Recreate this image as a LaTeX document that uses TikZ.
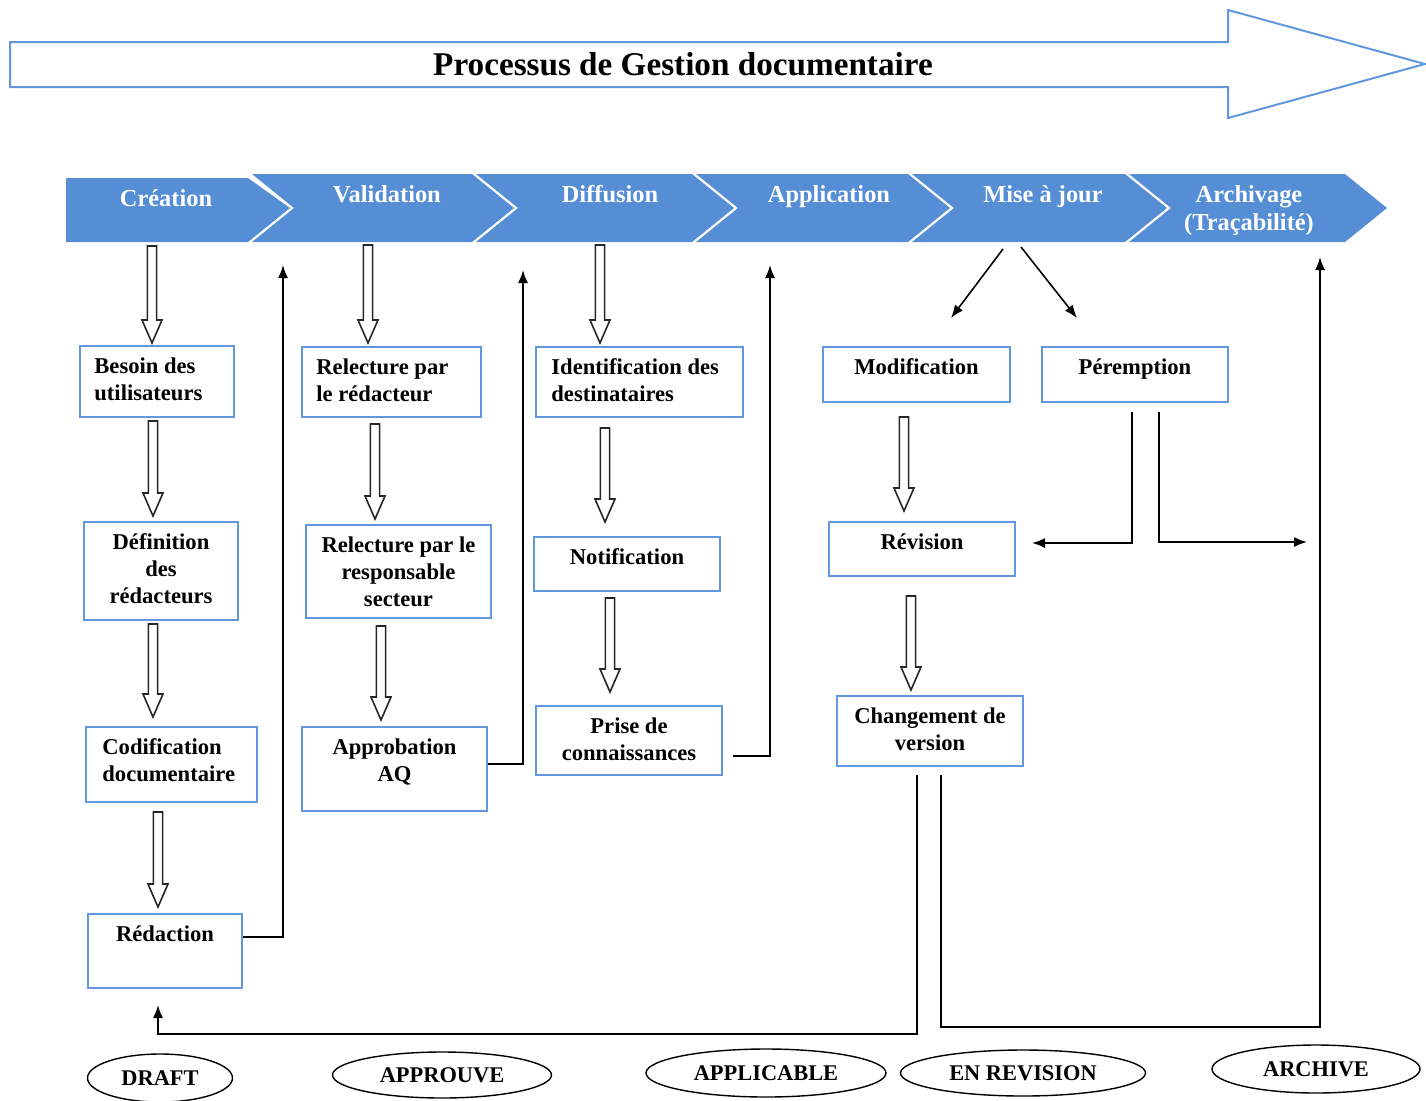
\documentclass[tikz,border=0pt]{standalone}
\usepackage{fontspec}
\setmainfont{Liberation Serif}
\usetikzlibrary{shapes}
\usetikzlibrary{arrows.meta}
\usetikzlibrary{calc}
\usetikzlibrary{positioning}

\definecolor{boxblue}{RGB}{98,150,222}
\definecolor{chevblue}{RGB}{85,142,213}

\newcommand{\blockarrow}[2]{%
  \draw[blockarr] let \p1=#1, \p2=#2 in
    (\x1-2.3pt,\y1) -- (\x1-2.3pt,\y2+11.5pt) -- (\x1-5pt,\y2+11.5pt) -- (\x1,\y2)
    -- (\x1+5pt,\y2+11.5pt) -- (\x1+2.3pt,\y2+11.5pt) -- (\x1+2.3pt,\y1) -- cycle;}

\begin{document}
\begin{tikzpicture}[x=0.5pt, y=-0.5pt,
  box/.style={draw=boxblue, line width=1pt, fill=white, anchor=north west, inner sep=0pt},
  lbl/.style={anchor=north, align=center, inner sep=0pt, yshift=-6pt,
    font=\fontsize{11.3}{13.5}\selectfont\bfseries},
  lbll/.style={lbl, anchor=north west, align=left},
  chev/.style={fill=chevblue},
  chevtxt/.style={text=white, align=center, font=\fontsize{12.2}{14}\selectfont\bfseries},
  conn/.style={line width=0.8pt, -{Latex[length=6.5pt,width=5pt]}},
  blockarr/.style={draw=black!85, line width=0.8pt, fill=white},
  etat/.style={draw, ellipse, line width=0.7pt, inner sep=0pt,
    font=\fontsize{11.2}{13}\selectfont\bfseries}]
  \useasboundingbox (0,0) rectangle (1426,1100);

  \draw[boxblue, line width=1pt] (10,42) -- (1228,42) -- (1228,10) -- (1425,64)
    -- (1228,118) -- (1228,87) -- (10,87) -- cycle;
  \node[font=\fontsize{16.6}{20}\selectfont\bfseries] (titre) at (683,64) {Processus de Gestion documentaire};

  \fill[chev] (66,178) -- (248,178) -- (290,208) -- (248,242) -- (66,242) -- cycle;
  \foreach \L/\R in {252/472, 476/692, 696/908, 912/1125, 1129/1345}
    \fill[chev] (\L,174) -- (\R,174) -- (\R+42,208) -- (\R,242) -- (\L,242) -- (\L+42,208) -- cycle;
  \node[chevtxt, anchor=base] (cre) at (166,206) {Création};
  \node[chevtxt, anchor=base] (val) at (387,202) {Validation};
  \node[chevtxt, anchor=base] (dif) at (610,202) {Diffusion};
  \node[chevtxt, anchor=base] (app) at (829,202) {Application};
  \node[chevtxt, anchor=base] (maj) at (1043,202) {Mise à jour};
  \node[chevtxt] (arc) at (1249,211) {Archivage\\(Traçabilité)};

  \node[box, minimum width=77pt, minimum height=35.5pt, label={[lbll, xshift=7.5pt]north west:{Besoin des\\utilisateurs}}] (besoin) at (79,345) {};
  \node[box, minimum width=77pt, minimum height=49pt, label={[lbl]north:{Définition\\des\\rédacteurs}}] (definit) at (83,521) {};
  \node[box, minimum width=85.5pt, minimum height=37.5pt, label={[lbll, xshift=8.5pt]north west:{Codification\\documentaire}}] (codif) at (85,726) {};
  \node[box, minimum width=77pt, minimum height=37pt, label={[lbl]north:{Rédaction}}] (redac) at (87,913) {};
  \node[box, minimum width=89.5pt, minimum height=35pt, label={[lbll, xshift=7.5pt]north west:{Relecture par\\le rédacteur}}] (relec1) at (301,346) {};
  \node[box, minimum width=92.5pt, minimum height=46.5pt, label={[lbl]north:{Relecture par le\\responsable\\secteur}}] (relec2) at (305,524) {};
  \node[box, minimum width=92.5pt, minimum height=42pt, label={[lbl]north:{Approbation\\AQ}}] (approb) at (301,726) {};
  \node[box, minimum width=103.5pt, minimum height=35pt, label={[lbll, xshift=8pt]north west:{Identification des\\destinataires}}] (ident) at (535,346) {};
  \node[box, minimum width=93pt, minimum height=27pt, label={[lbl]north:{Notification}}] (notif) at (533,536) {};
  \node[box, minimum width=93pt, minimum height=34.5pt, label={[lbl]north:{Prise de\\connaissances}}] (prise) at (535,705) {};
  \node[box, minimum width=93.5pt, minimum height=27.5pt, label={[lbl]north:{Modification}}] (modif) at (822,346) {};
  \node[box, minimum width=93pt, minimum height=27.5pt, label={[lbl]north:{Péremption}}] (perem) at (1041,346) {};
  \node[box, minimum width=93pt, minimum height=27pt, label={[lbl]north:{Révision}}] (revision) at (828,521) {};
  \node[box, minimum width=93pt, minimum height=35pt, label={[lbl]north:{Changement de\\version}}] (changement) at (836,695) {};

  \coordinate (cre-s) at (152,246);
  \coordinate (val-s) at (368,245);
  \coordinate (dif-s) at (600,245);
  \coordinate (val-up) at (283,265);
  \coordinate (dif-up) at (523,270);
  \coordinate (app-up) at (770,265);
  \coordinate (maj-l) at (1003,249);
  \coordinate (maj-r) at (1021,247);
  \coordinate (arc-up) at (1320,257);
  \coordinate (arc-in) at (1307,542);

  \blockarrow{(cre-s)}{($(besoin.north)+(0,-2)$)}
  \blockarrow{($(besoin.south)+(-4,3)$)}{($(definit.north)+(0,-5)$)}
  \blockarrow{($(definit.south)+(-8,3)$)}{($(codif.north)+(0,-9)$)}
  \blockarrow{($(codif.south)+(-13.5,9)$)}{($(redac.north)+(0,-6)$)}
  \blockarrow{(val-s)}{($(relec1.north)+(0,-3)$)}
  \blockarrow{($(relec1.south)+(-16.5,6)$)}{($(relec2.north)+(0,-5)$)}
  \blockarrow{($(relec2.south)+(-17.5,7)$)}{($(approb.north)+(0,-6)$)}
  \blockarrow{(dif-s)}{($(ident.north)+(0,-3)$)}
  \blockarrow{($(ident.south)+(-34.5,10)$)}{($(notif.north)+(0,-14)$)}
  \blockarrow{($(notif.south)+(-17,6)$)}{($(prise.north)+(0,-13)$)}
  \blockarrow{($(modif.south)+(-12.5,14)$)}{($(revision.north)+(0,-10)$)}
  \blockarrow{($(revision.south)+(-11,19)$)}{($(changement.north)+(0,-5)$)}

  \draw[conn] ($(redac.north east)+(0,24)$) -| (val-up);
  \draw[conn] ($(approb.north east)+(0,38)$) -| (dif-up);
  \draw[conn] ($(prise.east)+(10,15.5)$) -| (app-up);
  \draw[conn] (maj-l) -- ($(modif.north)+(34.5,-28)$);
  \draw[conn] (maj-r) -- ($(perem.north)+(-58,-28)$);
  \draw[conn] ($(perem.south)+(-3,9)$) |- ($(revision.east)+(16,-6)$);
  \draw[conn] ($(perem.south)+(24,9)$) |- (arc-in);
  \draw[conn] ($(changement.south)+(-13,8)$) |- ($(redac.south)+(-7,45)$) -- ($(redac.south)+(-7,16)$);
  \draw[conn] ($(changement.south)+(11,8)$) |- ($(arc-up)+(0,770)$) -- (arc-up);

  \node[etat, minimum width=72.5pt, minimum height=24pt] (draft) at (160,1078) {DRAFT};
  \node[etat, minimum width=109.5pt, minimum height=23pt] (approuve) at (442,1075) {APPROUVE};
  \node[etat, minimum width=120pt, minimum height=24pt] (applicable) at (766,1073) {APPLICABLE};
  \node[etat, minimum width=122.5pt, minimum height=23pt] (enrev) at (1023,1073) {EN REVISION};
  \node[etat, minimum width=104pt, minimum height=24pt] (archive) at (1316,1069) {ARCHIVE};
\end{tikzpicture}
\end{document}
